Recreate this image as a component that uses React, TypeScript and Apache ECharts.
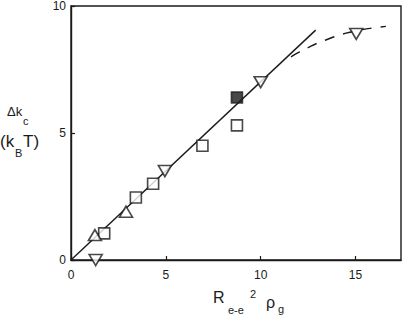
import React, { useEffect, useRef } from "react";
import * as echarts from "echarts";

const xTicks = [0, 5, 10, 15];
const yTicks = [0, 5, 10];
const openSquares = [[1.75, 1.05], [3.42, 2.46], [4.33, 3.0], [6.93, 4.5], [8.75, 5.3]];
const filledSquares = [[8.75, 6.4]];
const upTriangles = [[1.26, 0.98], [2.9, 1.9]];
const downTriangles = [[1.3, 0], [4.95, 3.5], [10.0, 7.0], [15.04, 8.9]];
const solidLine = [[0, 0], [12.9, 9.05]];
const dashedCurve = [[11.6, 8.0], [12.0, 8.17], [12.5, 8.36], [13.0, 8.54], [13.5, 8.68], [14.0, 8.82], [14.5, 8.93], [15.0, 9.02], [15.5, 9.09], [16.0, 9.14], [16.6, 9.2]];

const FONT = "'Liberation Sans', Arial, Helvetica, sans-serif";
const INK = "#1a1a1a";

export default function App() {
  const ref = useRef<HTMLDivElement>(null);
  useEffect(() => {
    if (!ref.current) return;
    const chart = echarts.init(ref.current, undefined, { renderer: "svg" });
    const markerStyle = { color: "#ffffff", borderColor: INK, borderWidth: 1.6 };
    const txt = (text: string, x: number, y: number, size: number) => ({
      type: "text",
      x,
      y,
      style: { text, fontSize: size, fontFamily: FONT, fill: INK, textAlign: "left", textVerticalAlign: "middle" },
    });
    chart.setOption({
      animation: false,
      backgroundColor: "#ffffff",
      grid: { left: 71, top: 5, width: 330, height: 255, show: true, borderColor: INK, borderWidth: 1.4, backgroundColor: "transparent" },
      xAxis: {
        type: "value",
        min: 0,
        max: 17.4,
        interval: 5,
        splitLine: { show: false },
        axisLine: { show: true, lineStyle: { color: INK, width: 1.4 } },
        axisTick: { show: true, inside: true, length: 4, lineStyle: { color: INK, width: 1.2 }, customValues: xTicks },
        axisLabel: { customValues: xTicks, color: INK, fontSize: 12, fontFamily: FONT, margin: 9 },
      },
      yAxis: {
        type: "value",
        min: 0,
        max: 10,
        interval: 5,
        splitLine: { show: false },
        axisLine: { show: true, lineStyle: { color: INK, width: 1.4 } },
        axisTick: { show: true, inside: true, length: 4, lineStyle: { color: INK, width: 1.2 }, customValues: yTicks },
        axisLabel: { customValues: yTicks, color: INK, fontSize: 12, fontFamily: FONT, margin: 5 },
      },
      series: [
        {
          type: "line",
          data: solidLine,
          symbol: "none",
          lineStyle: { color: INK, width: 1.4 },
          z: 1,
        },
        {
          type: "line",
          data: dashedCurve,
          symbol: "none",
          smooth: true,
          lineStyle: { color: INK, width: 1.4, type: [10, 9] },
          z: 1,
        },
        {
          type: "scatter",
          data: openSquares,
          symbol: "rect",
          symbolSize: 11,
          itemStyle: markerStyle,
          z: 3,
        },
        {
          type: "scatter",
          data: filledSquares,
          symbol: "rect",
          symbolSize: 11,
          itemStyle: { color: INK, borderColor: INK, borderWidth: 1.6 },
          z: 3,
        },
        {
          type: "scatter",
          data: upTriangles,
          symbol: "triangle",
          symbolSize: [13, 11],
          itemStyle: markerStyle,
          z: 3,
        },
        {
          type: "scatter",
          data: downTriangles,
          symbol: "triangle",
          symbolRotate: 180,
          symbolSize: [13, 11],
          itemStyle: markerStyle,
          z: 3,
        },
      ],
      graphic: [
        txt("Δk", 7, 111, 13),
        txt("c", 23, 121, 11),
        txt("(k", 0, 141, 17),
        txt("B", 15, 153, 11),
        txt("T)", 23, 141, 17),
        txt("R", 213, 297.5, 16),
        txt("e-e", 228, 309.5, 11),
        txt("2", 250, 294, 11),
        txt("ρ", 266, 302, 16),
        txt("g", 278, 309, 11),
      ],
    });
    return () => chart.dispose();
  }, []);
  return <div ref={ref} style={{ position: "fixed", left: 0, top: 0, width: 407, height: 320 }} />;
}
